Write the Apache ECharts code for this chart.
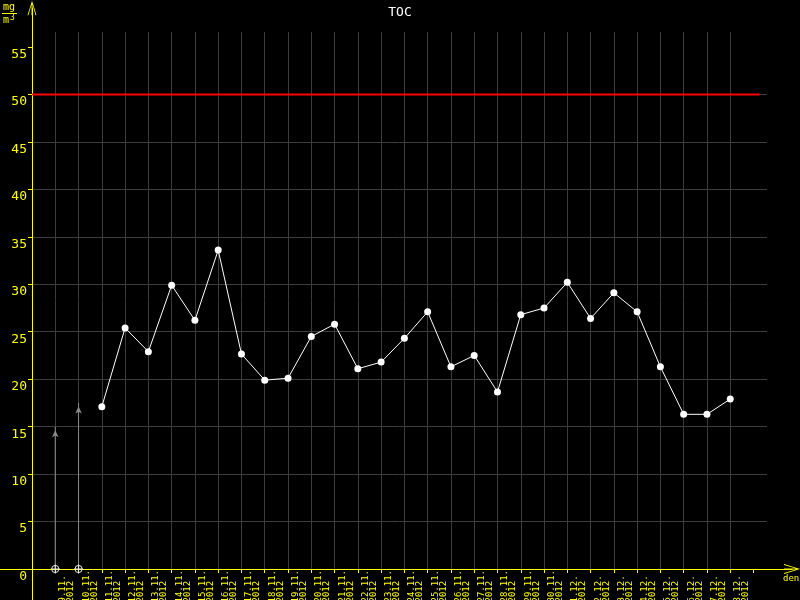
<!DOCTYPE html>
<html>
<head>
<meta charset="utf-8">
<script src="https://cdn.jsdelivr.net/npm/echarts@6/dist/echarts.min.js"></script>
<style>html,body{margin:0;padding:0;background:#000;}#c{width:800px;height:600px;}</style>
</head>
<body>
<div id="c"></div>
<script>
// ---- data ----
const dates = ['9.11.2012','10.11.2012','11.11.2012','12.11.2012','13.11.2012','14.11.2012','15.11.2012',
  '16.11.2012','17.11.2012','18.11.2012','19.11.2012','20.11.2012','21.11.2012','22.11.2012','23.11.2012',
  '24.11.2012','25.11.2012','26.11.2012','27.11.2012','28.11.2012','29.11.2012','30.11.2012','1.12.2012',
  '2.12.2012','3.12.2012','4.12.2012','5.12.2012','6.12.2012','7.12.2012','8.12.2012'];
const tocValues = [null, null, 17.1, 25.4, 22.9, 29.9, 26.2, 33.6, 22.65, 19.9, 20.1, 24.5, 25.8, 21.1, 21.8,
  24.3, 27.1, 21.3, 22.5, 18.65, 26.8, 27.5, 30.2, 26.4, 29.1, 27.1, 21.3, 16.3, 16.3, 17.9];
const arrowDates = ['9.11.2012', '10.11.2012'];
const arrowValues = [15, 17.5];
const limitValue = 50;
const yTickValues = [0, 5, 10, 15, 20, 25, 30, 35, 40, 45, 50, 55];

// ---- build ----
const FONT = 'DejaVu Sans Mono';
const YEL = '#ffff00';
const tickIdx = [];
for (let i = -1; i <= dates.length; i++) tickIdx.push(i);
const labelPos = dates.map((d, i) => i + 0.5);

const tocData = [];
tocValues.forEach((v, i) => { if (v != null) tocData.push([i, v]); });

const crossCircle = 'path://M-4,0A4,4 0 1,1 4,0A4,4 0 1,1 -4,0Z M-5,0L5,0 M0,-5L0,5';
const axisArrow = 'path://M5,0L10,16L9,16L5.5,4L5.5,16L4.5,16L4.5,4L1,16L0,16Z';

const arrowSeries = arrowDates.map((d, k) => {
  const i = dates.indexOf(d);
  return {
    type: 'line', xAxisIndex: 0, yAxisIndex: 0, z: 4,
    lineStyle: {color: '#8a8a8a', width: 1},
    data: [
      {value: [i, 0], symbol: crossCircle, symbolSize: 9,
       itemStyle: {color: 'rgba(0,0,0,0)', borderColor: '#e8e8e8', borderWidth: 1}},
      {value: [i, arrowValues[k]], symbol: 'arrow', symbolSize: [5, 7], symbolOffset: [0, 3.5],
       itemStyle: {color: '#8a8a8a'}}
    ]
  };
});

const chart = echarts.init(document.getElementById('c'));
chart.setOption({
  backgroundColor: '#000',
  animation: false,
  title: {text: 'TOC', left: 'center', top: 1,
    textStyle: {color: '#ffffff', fontFamily: FONT, fontSize: 13, fontWeight: 'normal'}},
  grid: [
    {left: 32, right: 33, top: 32, bottom: 31, containLabel: false, outerBoundsMode: 'none'},
    {left: 0, right: 8, top: 8, bottom: 0, containLabel: false, outerBoundsMode: 'none'}
  ],
  xAxis: [
    {gridIndex: 0, type: 'value', min: -1, max: 30.58, interval: 1,
     axisLine: {show: false, onZero: false},
     axisTick: {show: true, length: 4, customValues: tickIdx, lineStyle: {color: YEL}},
     axisLabel: {show: true, customValues: labelPos, rotate: 90, margin: 1,
       color: YEL, fontFamily: FONT, fontSize: 9, lineHeight: 8,
       formatter: function (v) {
         const d = dates[Math.round(v - 0.5)];
         if (!d) return '';
         const a = d.slice(0, d.length - 4), b = d.slice(d.length - 4);
         return a.padEnd(6, ' ') + '\n' + b.padEnd(6, ' ');
       }},
     splitLine: {show: true, showMinLine: false, showMaxLine: false, lineStyle: {color: '#3c3c3c', width: 1}}},
    {gridIndex: 1, type: 'value', min: 0, max: 1, position: 'bottom', offset: -31,
     axisLine: {show: true, onZero: false, lineStyle: {color: YEL, width: 1}, symbol: ['none', axisArrow], symbolSize: [11, 16]},
     axisTick: {show: false}, axisLabel: {show: false}, splitLine: {show: false}}
  ],
  yAxis: [
    {gridIndex: 0, type: 'value', min: 0, max: 56.58, interval: 5,
     axisLine: {show: false, onZero: false},
     axisTick: {show: true, length: 4, customValues: yTickValues, lineStyle: {color: YEL}},
     axisLabel: {show: true, customValues: yTickValues, color: YEL, fontFamily: FONT, fontSize: 13,
       margin: 5, verticalAlign: 'top', padding: [1, 0, 0, 0]},
     splitLine: {show: true, showMinLine: false, showMaxLine: false, lineStyle: {color: '#3c3c3c', width: 1}}},
    {gridIndex: 1, type: 'value', min: 0, max: 1, position: 'left', offset: -32,
     axisLine: {show: true, onZero: false, lineStyle: {color: YEL, width: 1}, symbol: ['none', axisArrow], symbolSize: [9, 16]},
     axisTick: {show: false}, axisLabel: {show: false}, splitLine: {show: false}}
  ],
  graphic: [
    {type: 'text', left: 3, top: 2, style: {text: 'mg', fill: YEL, font: '10px ' + FONT}},
    {type: 'line', shape: {x1: 2, y1: 13.5, x2: 17, y2: 13.5}, style: {stroke: YEL, lineWidth: 1}},
    {type: 'text', left: 3, top: 15, style: {text: 'm', fill: YEL, font: '10px ' + FONT}},
    {type: 'text', left: 10, top: 14, style: {text: '3', fill: YEL, font: '8px ' + FONT}},
    {type: 'text', left: 783, top: 574, style: {text: 'den', fill: YEL, font: '9px ' + FONT}}
  ],
  series: [
    {type: 'line', xAxisIndex: 0, yAxisIndex: 0, z: 3, symbol: 'none',
     lineStyle: {color: '#ff0000', width: 2},
     data: [[-1, limitValue], [dates.length + 0.25, limitValue]]},
    ...arrowSeries,
    {type: 'line', xAxisIndex: 0, yAxisIndex: 0, z: 5, symbol: 'circle', symbolSize: 7,
     lineStyle: {color: '#ffffff', width: 1}, itemStyle: {color: '#ffffff'},
     data: tocData}
  ]
});
</script>
</body>
</html>
